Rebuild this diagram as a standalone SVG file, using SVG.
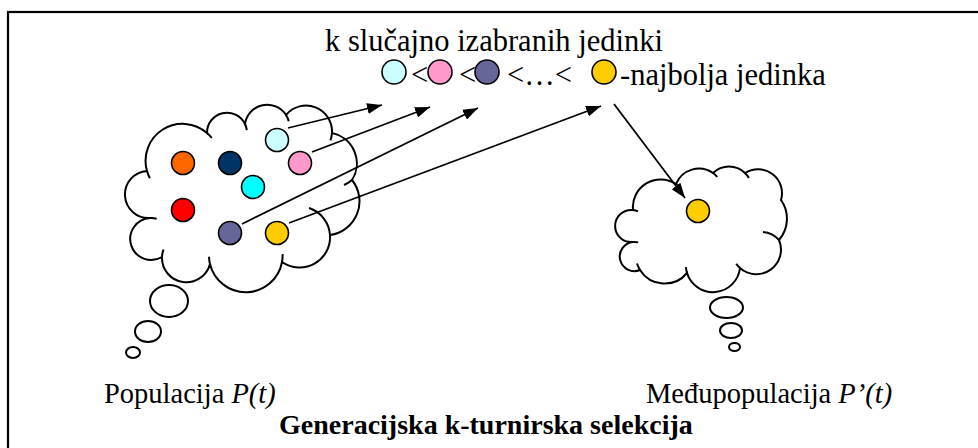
<svg xmlns="http://www.w3.org/2000/svg" width="978" height="448" viewBox="0 0 978 448">
  <defs>
    <marker id="head" markerUnits="userSpaceOnUse" markerWidth="16" markerHeight="11" refX="15" refY="5.5" orient="auto">
      <path d="M0,0 L15,5.5 L0,11 Z" fill="#000"/>
    </marker>
  </defs>
  <style>
    .frame { fill: none; stroke: #000; stroke-width: 2.2; }
    .cloud { fill: #fff; stroke: #000; stroke-width: 2; }
    .tick { fill: none; stroke: #000; stroke-width: 2; }
    .ind { stroke: #000; stroke-width: 1.6; }
    .link { fill: none; stroke: #000; stroke-width: 1.8; marker-end: url(#head); }
    .txt { font-family: "Liberation Serif", "Times New Roman", serif; fill: #000; }
    .big { font-size: 30.5px; }
    .lbl { font-size: 28.5px; }
    .ttl { font-size: 28px; font-weight: bold; }
  </style>

  <!-- outer frame (continues past the right and bottom edges) -->
  <rect class="frame" x="8" y="12" width="1000" height="500"/>

  <!-- population cloud P(t) -->
  <g id="population">
    <path class="cloud" d="M150,218 A23.5,23.5 0 0 1 147,171 A37,37 0 0 1 207,133 A20,20 0 0 1 245,124 A22.4,22.4 0 0 1 286,115 A26,26 0 0 1 332,133 A31,31 0 0 1 352,180 A34,34 0 0 1 330,235 A30.5,30.5 0 0 1 282,262 A36.8,36.8 0 0 1 210,264 A24.4,24.4 0 0 1 162,257 A21,21 0 1 1 150,218 Z"/>
    <path class="tick" d="M309,208 A30.5,30.5 0 0 1 330,235 M352,180 A31,31 0 0 1 344,185 M332,133 A26,26 0 0 1 330.4,140.4 M286,115 A22.4,22.4 0 0 1 288.8,121.3 M245,124 A20,20 0 0 1 246.8,130.2 M207,133 A37,37 0 0 1 211.8,138 M149.9,178.2 A37,37 0 0 1 147,171 M150,218 A21,21 0 0 1 156.6,218.7 M162,257 A24.4,24.4 0 0 1 163.5,249.5 M210,264 A36.8,36.8 0 0 1 209,256.7 M282.6,254.1 A36.8,36.8 0 0 1 282,262"/>
    <ellipse class="cloud" cx="169" cy="301" rx="19" ry="16"/>
    <ellipse class="cloud" cx="148" cy="331.5" rx="13" ry="10.5"/>
    <ellipse class="cloud" cx="133" cy="352.5" rx="7" ry="5.5"/>
    <circle class="ind" cx="183" cy="163" r="11.5" fill="#FF6600"/>
    <circle class="ind" cx="230" cy="163" r="11.5" fill="#003366" stroke="#000080"/>
    <circle class="ind" cx="277" cy="140" r="11.5" fill="#CCFFFF"/>
    <circle class="ind" cx="300" cy="163" r="11.5" fill="#FF99CC"/>
    <circle class="ind" cx="253" cy="187" r="11.5" fill="#00FFFF"/>
    <circle class="ind" cx="183" cy="210" r="11.5" fill="#FF0000"/>
    <circle class="ind" cx="230" cy="233" r="11.5" fill="#666699"/>
    <circle class="ind" cx="277" cy="233" r="11.5" fill="#FFCC00"/>
  </g>

  <!-- intermediate population cloud P'(t) -->
  <g id="intermediate">
    <path class="cloud" d="M633,242 A16.1,16.1 0 1 1 633,210 A27.8,27.8 0 0 1 676,184 A24.8,24.8 0 0 1 713,173 A23,23 0 0 1 745,173 A24,24 0 0 1 781,200 A32.5,32.5 0 0 1 779,240 A24.6,24.6 0 0 1 740,268 A27.2,27.2 0 0 1 687,273 A29,29 0 0 1 640,270 A14.6,14.6 0 1 1 633,242 Z"/>
    <path class="tick" d="M633,210 A16.1,16.1 0 0 1 638,211.4 M676,184 A27.8,27.8 0 0 1 681.4,188.7 M713,173 A24.8,24.8 0 0 1 717.3,176.9 M745,173 A23,23 0 0 1 748.9,178 M763,232 A24.6,24.6 0 0 1 779,240 M740,268 A24.6,24.6 0 0 1 736.2,263.7 M687,273 A27.2,27.2 0 0 1 685.9,267.2 M640,270 A29,29 0 0 1 637,263.5 M633,242 A14.6,14.6 0 0 1 638.2,242.4"/>
    <ellipse class="cloud" cx="726.5" cy="307.5" rx="16.5" ry="10.5"/>
    <ellipse class="cloud" cx="731" cy="330.5" rx="11" ry="7.5"/>
    <ellipse class="cloud" cx="734.5" cy="347" rx="5.5" ry="4"/>
    <circle class="ind" cx="698" cy="211" r="11.5" fill="#FFCC00"/>
  </g>

  <!-- tournament: k randomly chosen individuals, ordered by fitness -->
  <g id="tournament">
    <text class="txt big" x="325" y="51">k slučajno izabranih jedinki</text>
    <circle class="ind" cx="394" cy="72" r="12" fill="#CCFFFF"/>
    <text class="txt big" x="411" y="85">&lt;</text>
    <circle class="ind" cx="440" cy="72" r="12" fill="#FF99CC"/>
    <text class="txt big" x="459" y="85">&lt;</text>
    <circle class="ind" cx="487" cy="72" r="12" fill="#666699"/>
    <text class="txt big" x="507" y="85">&lt;…&lt;</text>
    <circle class="ind" cx="604" cy="72" r="12" fill="#FFCC00"/>
    <text class="txt big" x="620" y="85">-najbolja jedinka</text>
  </g>

  <!-- connectors -->
  <g id="connectors">
    <line class="link" x1="288" y1="128" x2="382" y2="105"/>
    <line class="link" x1="312" y1="152" x2="430" y2="107"/>
    <line class="link" x1="242" y1="224" x2="478" y2="108"/>
    <line class="link" x1="289" y1="223" x2="601" y2="106"/>
    <line class="link" x1="614" y1="104" x2="685" y2="198"/>
  </g>

  <!-- captions -->
  <g id="captions">
    <text class="txt lbl" x="104" y="403">Populacija <tspan font-style="italic">P(t)</tspan></text>
    <text class="txt lbl" x="646" y="403">Međupopulacija <tspan font-style="italic">P’(t)</tspan></text>
    <text class="txt ttl" x="279" y="434">Generacijska k-turnirska selekcija</text>
  </g>
</svg>
